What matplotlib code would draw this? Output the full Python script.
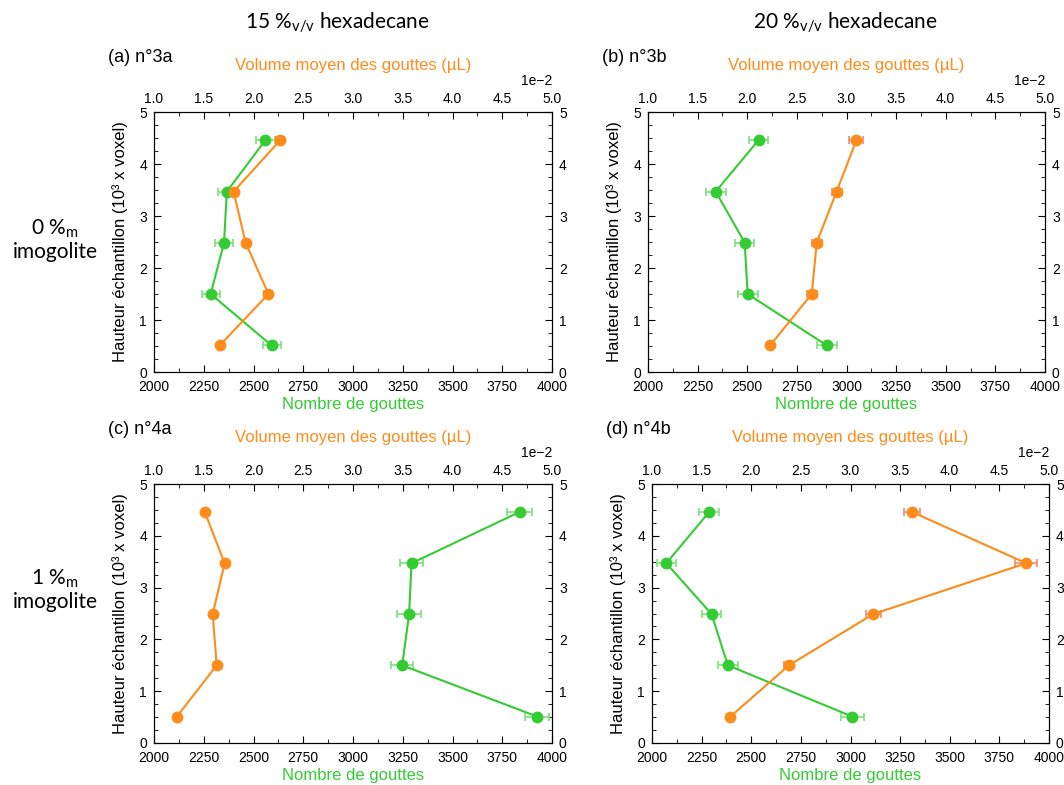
import matplotlib
matplotlib.use("Agg")
import matplotlib.pyplot as plt
from matplotlib.ticker import MultipleLocator

plt.rcParams["font.family"] = ["Liberation Sans", "DejaVu Sans"]
plt.rcParams["mathtext.fontset"] = "custom"
plt.rcParams["mathtext.rm"] = "Lato"
plt.rcParams["mathtext.it"] = "Lato:italic"

# sample heights (10^3 x voxel), bottom to top
heights = [0.51, 1.50, 2.49, 3.47, 4.46]

# number of droplets (bottom axis)
n_a = [2591, 2285, 2352, 2366, 2560]
n_b = [2901, 2502, 2487, 2341, 2557]
n_c = [3926, 3247, 3282, 3294, 3837]
n_d = [3009, 2382, 2300, 2072, 2288]
n_err_a = [45, 45, 45, 45, 46]
n_err_b = [50, 50, 48, 50, 50]
n_err_c = [60, 57, 60, 60, 61]
n_err_d = [57, 50, 48, 48, 50]

# mean droplet volume in uL (top axis)
v_a = [0.0166, 0.0215, 0.0192, 0.0180, 0.0227]
v_b = [0.0223, 0.0265, 0.0270, 0.0290, 0.0310]
v_c = [0.0123, 0.0163, 0.0159, 0.0171, 0.0151]
v_d = [0.0179, 0.0238, 0.0323, 0.0477, 0.0362]
v_err_a = [0.0002, 0.0004, 0.0003, 0.0004, 0.0004]
v_err_b = [0.0002, 0.0005, 0.0005, 0.0005, 0.0007]
v_err_c = [0.0001, 0.0001, 0.0001, 0.0001, 0.0001]
v_err_d = [0.0001, 0.0005, 0.00075, 0.0011, 0.00085]

panel_labels = ["(a) n°3a", "(b) n°3b", "(c) n°4a", "(d) n°4b"]
col_titles = [r"15 %$_{\mathrm{v/v}}$ hexadecane", r"20 %$_{\mathrm{v/v}}$ hexadecane"]
row_titles = ["0 %$_{\\mathrm{m}}$\nimogolite", "1 %$_{\\mathrm{m}}$\nimogolite"]

green = "#33cc33"
green_err = "#7ee07e"
orange = "#ff8c1a"
orange_err = "#ee8a72"

W, H = 1064, 785
fig = plt.figure(figsize=(W / 100, H / 100), dpi=100)

# axes boxes in pixels: left, top, right, bottom
boxes = [(154, 112, 552, 372), (648, 112, 1045, 372),
         (154, 484, 552, 743), (652, 484, 1049, 743)]
data = [(n_a, n_err_a, v_a, v_err_a), (n_b, n_err_b, v_b, v_err_b),
        (n_c, n_err_c, v_c, v_err_c), (n_d, n_err_d, v_d, v_err_d)]

for i, (box, (n, ne, v, ve)) in enumerate(zip(boxes, data)):
    l, t, r, b = box
    ax = fig.add_axes([l / W, 1 - b / H, (r - l) / W, (b - t) / H])
    ax.errorbar(n, heights, xerr=ne, color=green, ecolor=green_err, marker="o",
                ms=7.5, lw=1.5, elinewidth=1.2, capsize=3, capthick=1.2)
    ax.set_xlim(2000, 4000)
    ax.set_ylim(0, 5)
    ax.xaxis.set_major_locator(MultipleLocator(250))
    ax.xaxis.set_minor_locator(MultipleLocator(125))
    ax.yaxis.set_major_locator(MultipleLocator(1))
    ax.yaxis.set_minor_locator(MultipleLocator(0.25))
    ax.tick_params(which="both", direction="in", left=True, right=True,
                   labelright=True, bottom=True, top=False, labelsize=10)
    ax.tick_params(axis="y", pad=5)
    ax.tick_params(axis="x", pad=6)
    ax.tick_params(which="major", length=5)
    ax.tick_params(which="minor", length=3)
    ax.set_xlabel("Nombre de gouttes", color=green, fontsize=12, labelpad=2)
    ax.set_ylabel("Hauteur échantillon (10³ x voxel)", fontsize=12, labelpad=8)

    top = ax.twiny()
    top.errorbar(v, heights, xerr=ve, color=orange, ecolor=orange_err, marker="o",
                 ms=7.5, lw=1.5, elinewidth=1.2, capsize=3, capthick=1.2)
    top.set_xlim(0.01, 0.05)
    top.xaxis.set_major_locator(MultipleLocator(0.005))
    top.xaxis.set_minor_locator(MultipleLocator(0.0025))
    top.ticklabel_format(axis="x", style="sci", scilimits=(0, 0))
    top.tick_params(which="both", direction="in", labelsize=10, pad=4)
    top.tick_params(which="major", length=5)
    top.tick_params(which="minor", length=3)
    top.xaxis.get_offset_text().set_fontsize(10)
    top.set_xlabel("Volume moyen des gouttes (µL)", color=orange, fontsize=12, labelpad=16)

    fig.text((l - 46) / W, 1 - (t - 55) / H, panel_labels[i], fontsize=13,
             ha="left", va="center")

for j, txt in enumerate(col_titles):
    fig.text([337, 845][j] / W, 1 - 23 / H, txt, fontsize=15, family="Lato",
             ha="center", va="center")
for j, txt in enumerate(row_titles):
    fig.text(55 / W, 1 - [240, 590][j] / H, txt, fontsize=15, family="Lato",
             ha="center", va="center", linespacing=1.1)

fig.savefig("out.png", dpi=100)
